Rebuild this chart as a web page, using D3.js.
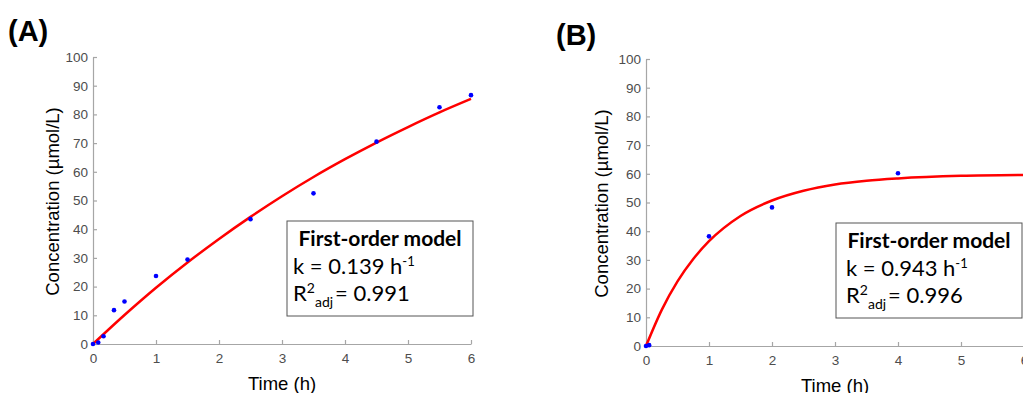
<!DOCTYPE html>
<html>
<head>
<meta charset="utf-8">
<title>First-order model fits</title>
<script src="https://cdnjs.cloudflare.com/ajax/libs/d3/7.8.5/d3.min.js"></script>
<style>
body { margin: 0; background: #fff; }
svg { display: block; font-family: "Liberation Sans", Arial, sans-serif; }
.axis .domain, .axis line { stroke: #a6a6a6; stroke-width: 1.2px; }
.axis text { fill: #4d4d4d; font-size: 13.5px; font-family: "Liberation Sans", Arial, sans-serif; }
.box text { font-family: Lato, sans-serif; fill: #000; }
</style>
</head>
<body>
<script>

// measured data, panel A
var timeA = [0, 0.083, 0.167, 0.333, 0.5, 1, 1.5, 2.5, 3.5, 4.5, 5.5, 6];
var concA = [0, 0.5, 2.7, 11.8, 14.8, 23.7, 29.4, 43.5, 52.5, 70.5, 82.5, 86.7];
// fitted curve, panel A
var fitTimeA = [0, 0.5, 1, 1.5, 2, 2.5, 3, 3.5, 4, 4.5, 5, 5.5, 6];
var fitConcA = [0, 10.1, 19.6, 28.4, 36.6, 44.3, 51.5, 58.2, 64.4, 70.2, 75.6, 80.7, 85.4];

// measured data, panel B
var timeB = [0, 0.05, 1, 2, 4];
var concB = [0, 0.3, 38.2, 48.3, 60.2];
// fitted curve, panel B
var fitTimeB = [0, 0.25, 0.5, 0.75, 1, 1.5, 2, 2.5, 3, 3.5, 4, 5, 6];
var fitConcB = [0, 12.6, 22.5, 30.3, 36.5, 45.3, 50.7, 54.1, 56.3, 57.6, 58.4, 59.3, 59.6];

var xTicks = [0, 1, 2, 3, 4, 5, 6];
var yTicks = [0, 10, 20, 30, 40, 50, 60, 70, 80, 90, 100];
var panelLabels = ["(A)", "(B)"];
var rateK = ["0.139", "0.943"];
var r2adj = ["0.991", "0.996"];

var svg = d3.select("body").append("svg")
    .attr("width", 1023)
    .attr("height", 393);

function drawPanel(p) {
    var x = d3.scaleLinear().domain([0, 6]).range([p.left, p.left + 378]);
    var y = d3.scaleLinear().domain([0, 100]).range([p.bottom, p.bottom - 287]);

    var g = svg.append("g");

    // axes, MATLAB style ticks pointing inward
    g.append("g")
        .attr("class", "axis")
        .attr("transform", "translate(0," + p.bottom + ")")
        .call(d3.axisBottom(x).tickValues(xTicks).tickFormat(d3.format("d"))
            .tickSizeInner(-4).tickSizeOuter(0).tickPadding(9));

    g.append("g")
        .attr("class", "axis")
        .attr("transform", "translate(" + p.left + ",0)")
        .call(d3.axisLeft(y).tickValues(yTicks).tickSizeInner(-4).tickSizeOuter(0).tickPadding(5));

    var line = d3.line()
        .x(function(d) { return x(d[0]); })
        .y(function(d) { return y(d[1]); })
        .curve(d3.curveMonotoneX);

    g.append("path")
        .datum(d3.zip(p.fitT, p.fitC))
        .attr("d", line)
        .attr("fill", "none")
        .attr("stroke", "#ff0000")
        .attr("stroke-width", 2.5);

    g.selectAll(".pt")
        .data(d3.zip(p.t, p.c))
        .enter().append("circle")
        .attr("class", "pt")
        .attr("cx", function(d) { return x(d[0]); })
        .attr("cy", function(d) { return y(d[1]); })
        .attr("r", 2.3)
        .attr("fill", "#0000ff");

    // axis titles
    g.append("text")
        .attr("x", x(3))
        .attr("y", p.timeY)
        .attr("text-anchor", "middle")
        .attr("font-size", 18.5)
        .text("Time (h)");

    g.append("text")
        .attr("transform", "translate(" + p.concX + "," + (y(50) + 1) + ") rotate(-90)")
        .attr("text-anchor", "middle")
        .attr("font-size", 18.5)
        .text("Concentration (\u00b5mol/L)");

    g.append("text")
        .attr("x", p.labelX)
        .attr("y", p.labelY)
        .attr("font-size", 29)
        .attr("font-weight", "bold")
        .text(p.label);

    // fit box
    var box = g.append("g").attr("class", "box")
        .attr("transform", "translate(" + p.boxX + "," + p.boxY + ")");
    box.append("rect")
        .attr("width", 186)
        .attr("height", 95)
        .attr("fill", "#fff")
        .attr("stroke", "#555")
        .attr("stroke-width", 1);
    box.append("text")
        .attr("x", 93)
        .attr("y", 25)
        .attr("text-anchor", "middle")
        .attr("font-size", 21)
        .attr("font-weight", "bold")
        .text("First-order model");
    var k = box.append("text")
        .attr("x", p.textX)
        .attr("y", 53)
        .attr("font-size", 22);
    k.append("tspan").text("k = " + p.k + " h");
    k.append("tspan").attr("dy", -8).attr("font-size", 13).text("-1");
    var r = box.append("text")
        .attr("x", p.textX)
        .attr("y", 80)
        .attr("font-size", 22);
    r.append("tspan").text("R");
    r.append("tspan").attr("dy", -8).attr("font-size", 14).text("2");
    r.append("tspan").attr("dy", 14).attr("font-size", 14).text("adj");
    r.append("tspan").attr("dy", -6).attr("dx", 2).text("= " + p.r2);
}

drawPanel({
    left: 93, bottom: 344,
    t: timeA, c: concA, fitT: fitTimeA, fitC: fitConcA,
    label: panelLabels[0], labelX: 8, labelY: 41,
    timeY: 390, concX: 59,
    boxX: 287, boxY: 221, textX: 6, k: rateK[0], r2: r2adj[0]
});

drawPanel({
    left: 646, bottom: 346,
    t: timeB, c: concB, fitT: fitTimeB, fitC: fitConcB,
    label: panelLabels[1], labelX: 556, labelY: 45,
    timeY: 392, concX: 608,
    boxX: 836, boxY: 223, textX: 10, k: rateK[1], r2: r2adj[1]
});

</script>
</body>
</html>
